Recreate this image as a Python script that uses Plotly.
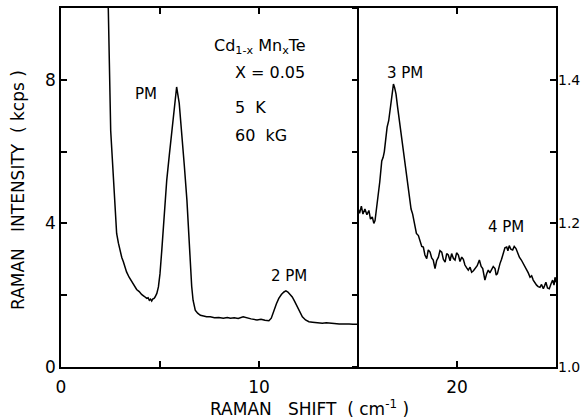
import plotly.graph_objects as go

# Left panel: Raman intensity (kcps), 0-15 cm^-1
left_x = [2.30, 2.39, 2.51, 2.62, 2.73, 2.81, 2.90, 2.98, 3.07, 3.15, 3.23, 3.31, 3.44, 3.57, 3.70, 3.82,
          3.95, 4.07, 4.20, 4.33, 4.40, 4.46, 4.52, 4.58, 4.63, 4.70, 4.75, 4.84, 4.92, 5.00, 5.09, 5.17,
          5.25, 5.34, 5.47, 5.59, 5.72, 5.84, 5.97, 6.10, 6.23, 6.36, 6.45, 6.53, 6.60, 6.67, 6.78, 6.90,
          7.04, 7.20, 7.35, 7.54, 7.75, 7.97, 8.20, 8.40, 8.56, 8.75, 8.95, 9.20, 9.40, 9.60, 9.90, 10.10,
          10.30, 10.50, 10.62, 10.75, 10.88, 11.00, 11.13, 11.26, 11.36, 11.46, 11.57, 11.68, 11.80, 11.93,
          12.06, 12.19, 12.35, 12.52, 12.70, 12.95, 13.20, 13.40, 13.60, 13.80, 14.05, 14.30, 14.55, 14.75, 14.95]
left_y = [11.0, 9.95, 6.58, 5.60, 4.64, 3.72, 3.45, 3.25, 3.05, 2.93, 2.78, 2.65, 2.50, 2.37, 2.27, 2.16,
          2.10, 2.02, 1.97, 1.91, 1.93, 1.86, 1.89, 1.84, 1.89, 1.91, 1.95, 2.05, 2.23, 2.60, 3.25, 3.90,
          4.64, 5.20, 5.90, 6.58, 7.30, 7.80, 7.35, 6.58, 5.60, 4.64, 3.72, 2.79, 2.25, 1.86, 1.58, 1.50,
          1.44, 1.42, 1.40, 1.40, 1.37, 1.38, 1.36, 1.38, 1.36, 1.37, 1.35, 1.40, 1.36, 1.34, 1.31, 1.33,
          1.30, 1.29, 1.36, 1.58, 1.76, 1.91, 2.02, 2.09, 2.12, 2.09, 2.03, 1.95, 1.83, 1.68, 1.53, 1.40,
          1.31, 1.26, 1.25, 1.23, 1.22, 1.23, 1.21, 1.21, 1.20, 1.21, 1.20, 1.19, 1.19]

# Right panel: relative intensity (right axis 1.0-1.5), 15-25 cm^-1
right_x = [15.00, 15.08, 15.17, 15.25, 15.35, 15.45, 15.55, 15.63, 15.72, 15.80, 15.86, 15.93, 16.00,
           16.10, 16.20, 16.27, 16.33, 16.40, 16.47, 16.55, 16.62, 16.68, 16.73, 16.79, 16.85, 16.92,
           17.00, 17.06, 17.12, 17.20, 17.28, 17.35, 17.43, 17.51, 17.60, 17.68, 17.76, 17.85, 17.95,
           18.05, 18.13, 18.22, 18.30, 18.38, 18.47, 18.55, 18.64, 18.72, 18.80, 18.89, 18.97, 19.06,
           19.14, 19.23, 19.31, 19.40, 19.48, 19.56, 19.65, 19.73, 19.82, 19.90, 19.98, 20.07, 20.15,
           20.24, 20.32, 20.40, 20.49, 20.57, 20.66, 20.74, 20.83, 20.91, 21.02, 21.13, 21.22, 21.30,
           21.36, 21.41, 21.50, 21.58, 21.66, 21.75, 21.83, 21.92, 21.98, 22.04, 22.10, 22.17, 22.25,
           22.34, 22.42, 22.51, 22.57, 22.64, 22.72, 22.81, 22.89, 22.98, 23.06, 23.15, 23.25, 23.35,
           23.43, 23.52, 23.60, 23.69, 23.77, 23.85, 23.94, 24.02, 24.10, 24.19, 24.27, 24.36, 24.42,
           24.49, 24.57, 24.66, 24.75, 24.83, 24.90, 24.95, 25.00]
right_y = [1.221, 1.214, 1.224, 1.213, 1.220, 1.212, 1.218, 1.206, 1.209, 1.200, 1.204, 1.218, 1.232,
           1.258, 1.287, 1.292, 1.300, 1.322, 1.334, 1.343, 1.358, 1.371, 1.384, 1.394, 1.389, 1.380,
           1.362, 1.349, 1.334, 1.318, 1.306, 1.285, 1.274, 1.252, 1.232, 1.220, 1.213, 1.200, 1.186,
           1.183, 1.176, 1.168, 1.167, 1.156, 1.151, 1.163, 1.160, 1.152, 1.149, 1.137, 1.148, 1.153,
           1.162, 1.160, 1.150, 1.146, 1.158, 1.156, 1.148, 1.158, 1.151, 1.149, 1.159, 1.156, 1.147,
           1.153, 1.150, 1.142, 1.138, 1.135, 1.139, 1.132, 1.134, 1.137, 1.141, 1.149, 1.140, 1.137,
           1.127, 1.121, 1.130, 1.135, 1.131, 1.135, 1.140, 1.137, 1.128, 1.130, 1.138, 1.144, 1.150,
           1.160, 1.166, 1.167, 1.162, 1.169, 1.164, 1.163, 1.168, 1.165, 1.158, 1.153, 1.149, 1.144,
           1.140, 1.137, 1.131, 1.125, 1.127, 1.121, 1.117, 1.114, 1.112, 1.111, 1.115, 1.109, 1.113,
           1.118, 1.110, 1.109, 1.116, 1.121, 1.114, 1.125, 1.118]

left_ticks = [0, 2, 4, 6, 8, 10]
left_labels = ["0", "", "4", "", "8", ""]
right_ticks = [1.0, 1.1, 1.2, 1.3, 1.4, 1.5]
right_labels = ["1.0", "", "1.2", "", "1.4", ""]
x_ticks = [0, 5, 10, 15, 20, 25]
x_labels = ["0", "", "10", "", "20", ""]

peak_labels = ["PM", "2 PM", "3 PM", "4 PM"]
peak_x = [4.29, 11.52, 17.37, 22.47]
peak_y = [7.61, 2.53, 8.19, 3.89]

FONT = "DejaVu Sans"

fig = go.Figure()
fig.add_trace(go.Scatter(x=left_x, y=left_y, mode="lines",
                         line=dict(color="black", width=1.5), yaxis="y"))
fig.add_trace(go.Scatter(x=right_x, y=right_y, mode="lines",
                         line=dict(color="black", width=1.5), yaxis="y2"))

annotations = []
for t, px, py in zip(peak_labels, peak_x, peak_y):
    annotations.append(dict(x=px, y=py, xref="x", yref="y", text=t, showarrow=False,
                            font=dict(size=15, color="black", family=FONT)))
info_lines = ["Cd<sub>1-x</sub> Mn<sub>x</sub>Te", "X = 0.05", "5  K", "60  kG"]
info_x = [7.63, 8.69, 8.69, 8.69]
info_y = [8.94, 8.19, 7.22, 6.44]
for t, px, py in zip(info_lines, info_x, info_y):
    annotations.append(dict(x=px, y=py, xref="x", yref="y", text=t, showarrow=False,
                            xanchor="left", font=dict(size=16, color="black", family=FONT)))

# axis titles
annotations.append(dict(x=0.503, y=-0.114, xref="paper", yref="paper",
                        text="RAMAN   SHIFT  ( cm<sup>-1</sup> )", showarrow=False,
                        xanchor="center", yanchor="middle",
                        font=dict(size=17, color="black", family=FONT)))
annotations.append(dict(x=-0.087, y=0.493, xref="paper", yref="paper",
                        text="RAMAN   INTENSITY  ( kcps )", showarrow=False, textangle=-90,
                        xanchor="center", yanchor="middle",
                        font=dict(size=17, color="black", family=FONT)))

fig.update_layout(
    width=582, height=420,
    margin=dict(l=61, r=26, t=8, b=53, autoexpand=False),
    plot_bgcolor="white", paper_bgcolor="white",
    showlegend=False,
    font=dict(family=FONT, color="black", size=16),
    annotations=annotations,
    xaxis=dict(range=[0, 25], tickvals=x_ticks, ticktext=x_labels, ticks="inside",
               ticklen=6, tickwidth=1.5, tickcolor="black", automargin=False,
               showline=True, linecolor="black", linewidth=1.5, mirror="ticks",
               showgrid=False, zeroline=False, ticklabelstandoff=4,
               tickfont=dict(size=17, family=FONT)),
    yaxis=dict(range=[0, 10], tickvals=left_ticks, ticktext=left_labels, ticks="inside",
               ticklen=6, tickwidth=1.5, tickcolor="black", automargin=False,
               showline=True, linecolor="black", linewidth=1.5, mirror="ticks",
               showgrid=False, zeroline=False,
               tickfont=dict(size=17, family=FONT)),
    yaxis2=dict(range=[1.0, 1.5], overlaying="y", side="right", anchor="x",
                tickvals=right_ticks, ticktext=right_labels, ticks="", automargin=False,
                showline=False, showgrid=False, zeroline=False,
                ticklabelstandoff=1,
                tickfont=dict(size=14, family=FONT)),
    yaxis3=dict(range=[0, 10], overlaying="y", anchor="free", position=0.6, side="left",
                tickvals=left_ticks, showticklabels=False, ticks="outside", automargin=False,
                ticklen=5, tickwidth=1.5, tickcolor="black",
                showline=True, linecolor="black", linewidth=1.5,
                showgrid=False, zeroline=False),
)
# invisible trace to activate the divider axis
fig.add_trace(go.Scatter(x=[None], y=[None], yaxis="y3", hoverinfo="skip", showlegend=False))

fig.write_html("out.html")
